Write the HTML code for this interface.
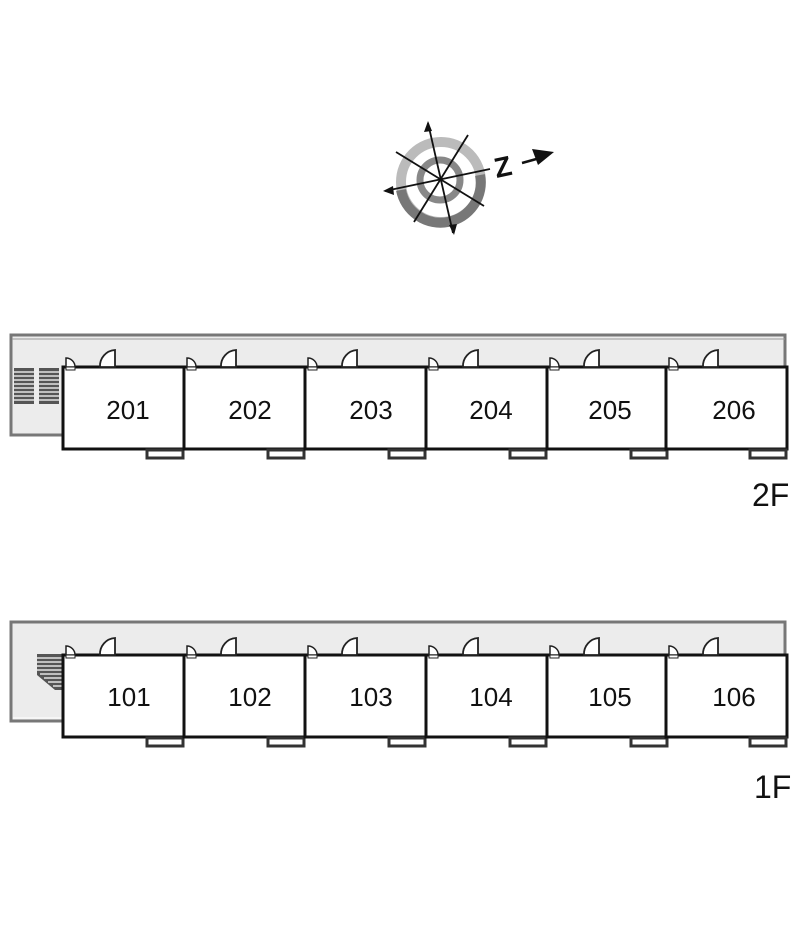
<!DOCTYPE html>
<html><head><meta charset="utf-8"><style>
html,body{margin:0;padding:0;background:#fff;}
svg{display:block;}
text{font-family:"Liberation Sans",sans-serif;fill:#111;}
</style></head><body>
<svg width="800" height="942" viewBox="0 0 800 942" xmlns="http://www.w3.org/2000/svg">
<defs>
<g id="u2">
  <rect x="0" y="0" width="121" height="82" fill="#fff" stroke="#111" stroke-width="3"/>
  <path d="M3 0 V-9 A9 9 0 0 1 12 0 Z" fill="#fff" stroke="#222" stroke-width="1.5"/>
  <rect x="3" y="0" width="9" height="3" fill="#fff" stroke="#222" stroke-width="1"/>
  <path d="M52 0 V-17 A16 16 0 0 0 37 0 Z" fill="#fff" stroke="#222" stroke-width="1.8"/>
  <rect x="84" y="83" width="36" height="8" fill="#fff" stroke="#333" stroke-width="3"/>
</g>
</defs>
<!-- compass -->
<circle cx="441" cy="182" r="40" fill="none" stroke="#bbb" stroke-width="10"/>
<path d="M 401 190 A40 40 0 0 0 480 175" fill="none" stroke="#777" stroke-width="10"/>
<circle cx="440" cy="180" r="20" fill="none" stroke="#888" stroke-width="7"/>
<g stroke="#111" stroke-width="1.8">
<line x1="428" y1="123" x2="453" y2="233"/>
<line x1="385" y1="191" x2="490" y2="169"/>
<line x1="396" y1="152" x2="484" y2="206"/>
<line x1="468" y1="135" x2="414" y2="222"/>
</g>
<polygon points="428,121 424,132 432,131" fill="#111"/>
<polygon points="454,235 449,225 457,224" fill="#111"/>
<polygon points="383,191 393,186 394,195" fill="#111"/>
<text x="494" y="176" font-size="28" font-weight="bold" transform="rotate(-12 505 165)">Z</text>
<line x1="522" y1="163" x2="540" y2="158" stroke="#111" stroke-width="2.5"/>
<polygon points="554,152 532,149 538,165" fill="#111"/>

<!-- 2F -->
<rect x="11" y="335" width="774" height="100" fill="#ececec" stroke="#777" stroke-width="3"/>
<line x1="12" y1="339" x2="785" y2="339" stroke="#999" stroke-width="1"/>
<g fill="#555">
<rect x="14" y="368" width="20" height="36"/>
<rect x="39" y="368" width="20" height="36"/>
</g>
<g stroke="#fff" stroke-width="1.2">
<path d="M14 372H34M14 376H34M14 380H34M14 384H34M14 388H34M14 392H34M14 396H34M14 400H34"/>
<path d="M39 372H59M39 376H59M39 380H59M39 384H59M39 388H59M39 392H59M39 396H59M39 400H59"/>
</g>
<use href="#u2" x="63" y="367"/>
<use href="#u2" x="184" y="367"/>
<use href="#u2" x="305" y="367"/>
<use href="#u2" x="426" y="367"/>
<use href="#u2" x="547" y="367"/>
<use href="#u2" x="666" y="367"/>
<g font-size="26" text-anchor="middle">
<text x="128" y="419">201</text><text x="250" y="419">202</text><text x="371" y="419">203</text>
<text x="491" y="419">204</text><text x="610" y="419">205</text><text x="734" y="419">206</text>
</g>
<text x="752" y="506" font-size="32">2F</text>

<!-- 1F -->
<rect x="11" y="622" width="774" height="99" fill="#ececec" stroke="#777" stroke-width="3"/>
<line x1="13" y1="718" x2="63" y2="718" stroke="#fff" stroke-width="1"/>
<polygon points="37,654 63,654 63,690 55,690 37,675" fill="#555"/>
<g stroke="#fff" stroke-width="1.2">
<path d="M37 658H63M37 662H63M37 666H63M37 670H63M40 674H63M44 678H63M48 682H63M53 686H63"/>
</g>
<use href="#u2" x="63" y="655"/>
<use href="#u2" x="184" y="655"/>
<use href="#u2" x="305" y="655"/>
<use href="#u2" x="426" y="655"/>
<use href="#u2" x="547" y="655"/>
<use href="#u2" x="666" y="655"/>
<g font-size="26" text-anchor="middle">
<text x="129" y="706">101</text><text x="250" y="706">102</text><text x="371" y="706">103</text>
<text x="491" y="706">104</text><text x="610" y="706">105</text><text x="734" y="706">106</text>
</g>
<text x="754" y="798" font-size="32">1F</text>
</svg>
</body></html>
